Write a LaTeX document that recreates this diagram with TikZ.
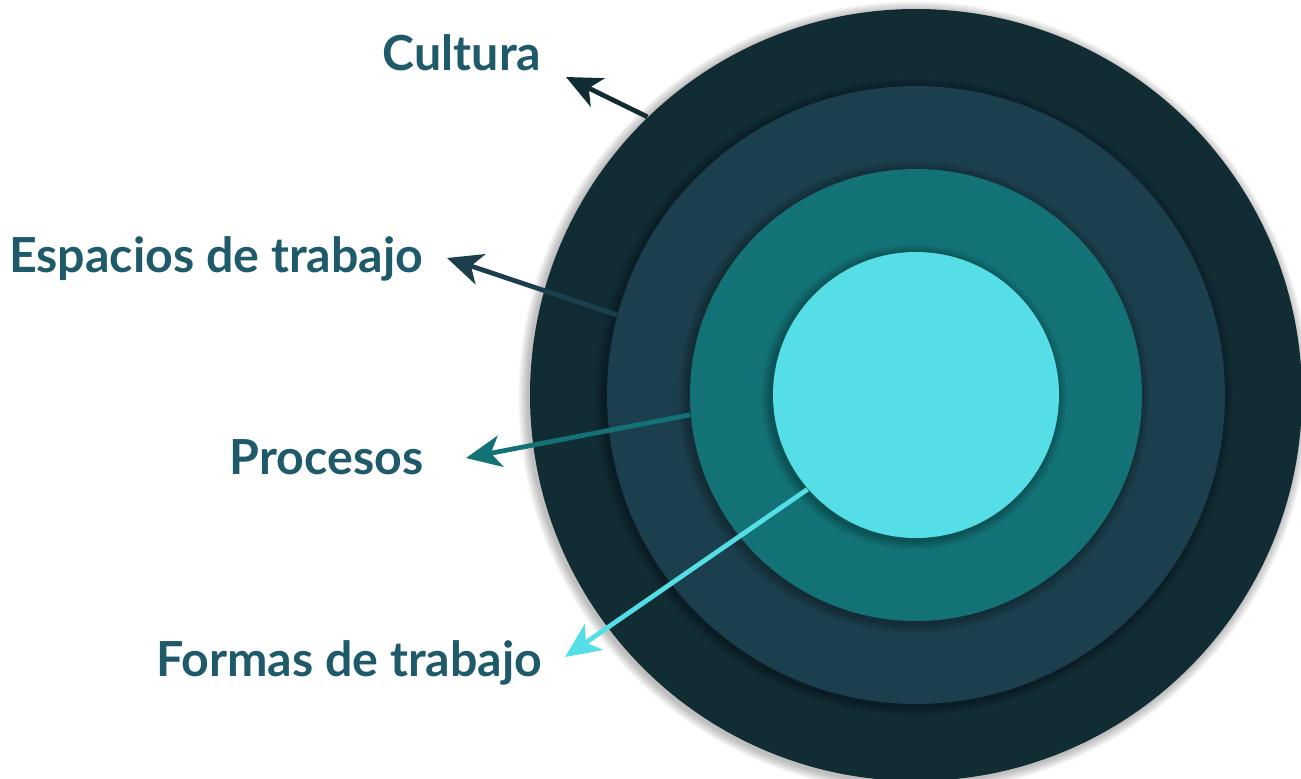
\documentclass[tikz,border=0pt]{standalone}
\usepackage{fontspec}
\setmainfont{Lato}
\usetikzlibrary{arrows.meta}
\definecolor{ringa}{HTML}{122C34}
\definecolor{ringb}{HTML}{1B3F4D}
\definecolor{ringc}{HTML}{137276}
\definecolor{ringd}{HTML}{55DEE5}
\definecolor{labelcolor}{HTML}{1F5A6A}
\tikzstyle{disc} = [
    circle,
    inner sep=0pt
    ]
\tikzstyle{tag} = [
    text=labelcolor,
    font=\bfseries\fontsize{13.75}{16}\selectfont,
    anchor=base east,
    inner sep=0pt
    ]
\tikzstyle{pointer} = [
    line width=1.35pt,
    -{Stealth[length=10pt,width=9pt,inset=2.8pt]}
    ]
\newcommand{\softshadow}[2]{% centre, radius
\foreach \k in {1,...,8}{
    \fill[black, opacity=0.035] (#1) ++(-0.02,-0.02) circle ({#2+\k*0.012});
}}

\begin{document}
\begin{tikzpicture}
\useasboundingbox (0,0) rectangle (13.01,-7.79);
\clip (0,0) rectangle (13.01,-7.79);
\coordinate (mid) at (9.16,-3.95);

\softshadow{mid}{3.86}
\node[disc, fill=ringa, minimum size=7.72cm] (cultura) at (mid) {};
\softshadow{mid}{3.09}
\node[disc, fill=ringb, minimum size=6.18cm] (espacios) at (mid) {};
\softshadow{mid}{2.26}
\node[disc, fill=ringc, minimum size=4.52cm] (procesos) at (mid) {};
\softshadow{mid}{1.43}
\node[disc, fill=ringd, minimum size=2.86cm] (formas) at (mid) {};

\node[tag] (lcultura) at (5.42,-0.70) {Cultura};
\node[tag] (lespacios) at (4.24,-2.72) {Espacios de trabajo};
\node[tag] (lprocesos) at (4.24,-4.74) {Procesos};
\node[tag] (lformas) at (5.43,-6.76) {Formas de trabajo};

\coordinate (tcultura) at (5.66,-0.77);
\coordinate (tespacios) at (4.47,-2.58);
\coordinate (tprocesos) at (4.66,-4.58);
\coordinate (tformas) at (5.65,-6.57);

\draw[pointer, ringa] (cultura.134.8) -- (tcultura);
\draw[pointer, ringb] (espacios.165.2) -- (tespacios);
\draw[pointer, ringc] (procesos.185.1) -- (tprocesos);
\draw[pointer, ringd] (formas.221.9) -- (tformas);
\end{tikzpicture}
\end{document}
